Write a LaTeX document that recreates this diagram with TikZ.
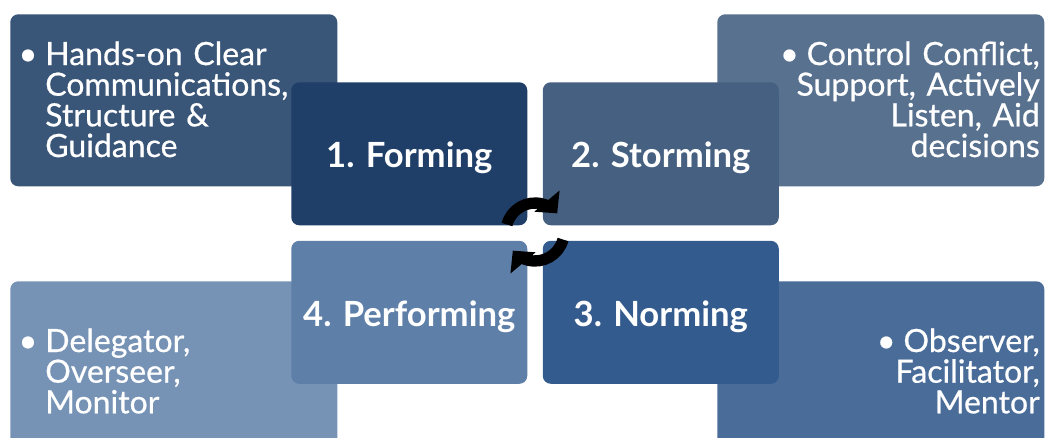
\documentclass[tikz,border=0pt]{standalone}
\usepackage{fontspec}
\setmainfont{Lato}
\newfontfamily\notefont{Lato}[FakeBold=0.6]
\usepackage{xcolor}
\usetikzlibrary{positioning,arrows.meta}

\definecolor{tlblue}{HTML}{395578}
\definecolor{trblue}{HTML}{57718F}
\definecolor{blblue}{HTML}{7693B5}
\definecolor{brblue}{HTML}{4A6C99}
\definecolor{formblue}{HTML}{1F3F68}
\definecolor{stormblue}{HTML}{456080}
\definecolor{normblue}{HTML}{345B8E}
\definecolor{perfblue}{HTML}{5E7FA8}

\begin{document}
\begin{tikzpicture}[x=0.75pt, y=-0.75pt,
        outerbox/.style={rounded corners=6pt, minimum width=245.25pt, minimum height=129pt, inner sep=0pt, anchor=north west},
        stagebox/.style={rounded corners=6pt, minimum width=177pt, minimum height=107.25pt, inner sep=0pt,
            text height=21pt, text depth=0pt, text=white, font=\bfseries\fontsize{26}{30}\selectfont},
        note/.style={text=white, inner sep=0pt, text width=230pt, font=\notefont\fontsize{24}{23}\selectfont},
        cycle/.style={line width=8.5pt, -{Triangle[length=12pt, width=24pt]}}]
        \clip (0,0) rectangle (1046,437);

        % outer boxes
        \node[outerbox, fill=tlblue] (tl) at (10,14) {};
        \node[outerbox, fill=trblue] (tr) at (717,14) {};
        \node[outerbox, fill=blblue] (bl) at (10,281) {};
        \node[outerbox, fill=brblue] (br) at (717,281) {};

        \node[note, anchor=base west, align=left] (tltext) at ([shift={(35,51)}]tl.north west)
            {\llap{\textbullet\hspace{6pt}}Hands-on Clear\\Communications,\\Structure \&\\Guidance};
        \node[note, anchor=base east, align=right] (trtext) at ([shift={(323,51)}]tr.north west)
            {\textbullet\hspace{6pt}Control Conflict,\\Support, Actively\\Listen, Aid\\decisions};
        \node[note, anchor=base west, align=left] (bltext) at ([shift={(35,71)}]bl.north west)
            {\llap{\textbullet\hspace{6pt}}Delegator,\\Overseer,\\Monitor};
        \node[note, anchor=base east, align=right] (brtext) at ([shift={(323,71)}]br.north west)
            {\textbullet\hspace{6pt}Observer,\\Facilitator,\\Mentor};

        % stages
        \node[stagebox, fill=formblue, anchor=north west] (form) at (291,82) {1. Forming};
        \node[stagebox, fill=stormblue, right=11.25pt of form] (storm) {2. Storming};
        \node[stagebox, fill=perfblue, below=11.25pt of form] (perf) {4. Performing};
        \node[stagebox, fill=normblue, right=11.25pt of perf] (norm) {3. Norming};

        % cycle arrows
        \coordinate (hub) at (535,232);
        \draw[cycle] ([shift={(-165:29)}]hub) arc (-165:-40:29);
        \draw[cycle] ([shift={(15:29)}]hub) arc (15:140:29);
    \end{tikzpicture}
\end{document}
